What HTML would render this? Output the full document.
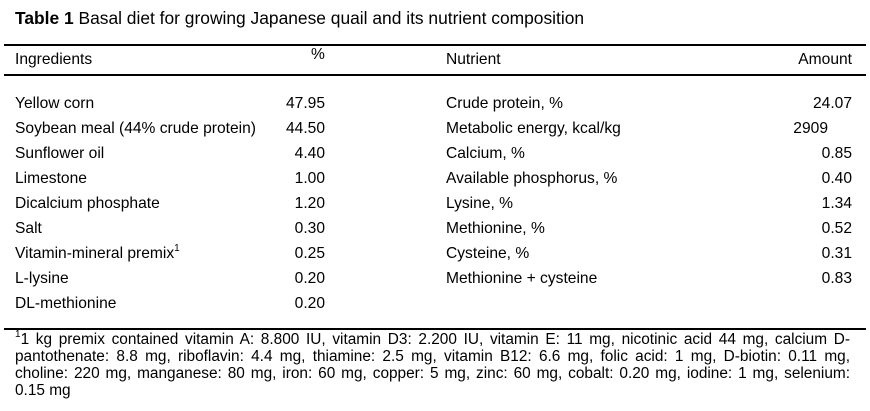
<!DOCTYPE html>
<html><head><meta charset="utf-8"><style>
body{margin:0;width:870px;height:411px;background:#fff;position:relative;overflow:hidden;font-family:"Liberation Sans",Arial,sans-serif;color:#000;font-size:15.6px}
.a{position:absolute;white-space:nowrap;line-height:18px}
.r{text-align:right}
sup{font-size:10px;line-height:0;position:relative;top:-1px;vertical-align:super}
.rule{position:absolute;left:4px;width:862px;height:1.5px;background:#000}
.fn{position:absolute;left:15px;width:835px;line-height:17px;height:17px;text-align:justify;text-align-last:justify;white-space:nowrap;font-size:15.4px}
</style></head><body>
<div class="a" style="left:15px;top:9px;font-size:17.4px"><b>Table 1</b> Basal diet for growing Japanese quail and its nutrient composition</div>
<div class="rule" style="top:44px"></div>
<div class="rule" style="top:74px"></div>
<div class="rule" style="top:328px"></div>
<div class="a" style="left:15px;top:51px">Ingredients</div>
<div class="a" style="left:311px;top:46px">%</div>
<div class="a" style="left:446px;top:51px">Nutrient</div>
<div class="a r" style="right:18px;top:51px">Amount</div>
<div id="rows"></div>
<div class="fn" style="top:331px"><sup>1</sup>1 kg premix contained vitamin A: 8.800 IU, vitamin D3: 2.200 IU, vitamin E: 11 mg, nicotinic acid 44 mg, calcium D-</div>
<div class="fn" style="top:348px">pantothenate: 8.8 mg, riboflavin: 4.4 mg, thiamine: 2.5 mg, vitamin B12: 6.6 mg, folic acid: 1 mg, D-biotin: 0.11 mg,</div>
<div class="fn" style="top:365px">choline: 220 mg, manganese: 80 mg, iron: 60 mg, copper: 5 mg, zinc: 60 mg, cobalt: 0.20 mg, iodine: 1 mg, selenium:</div>
<div class="fn" style="top:382px;text-align-last:left">0.15 mg</div>
<script>
const ingredients=["Yellow corn","Soybean meal (44% crude protein)","Sunflower oil","Limestone","Dicalcium phosphate","Salt","Vitamin-mineral premix<sup>1</sup>","L-lysine","DL-methionine"];
const percents=["47.95","44.50","4.40","1.00","1.20","0.30","0.25","0.20","0.20"];
const nutrients=["Crude protein, %","Metabolic energy, kcal/kg","Calcium, %","Available phosphorus, %","Lysine, %","Methionine, %","Cysteine, %","Methionine + cysteine"];
const amounts=["24.07","2909","0.85","0.40","1.34","0.52","0.31","0.83"];
const c=document.getElementById('rows');
function add(html,style,name){const d=document.createElement('div');d.className='a';d.setAttribute('style',style);d.innerHTML=html;


c.appendChild(d);}
ingredients.forEach((t,i)=>{const y=95+i*25;add(t,'left:15px;top:'+y+'px','ingredient-'+i);add(percents[i],'right:545px;top:'+y+'px;text-align:right','percent-'+i);});
nutrients.forEach((t,i)=>{const y=95+i*25;add(t,'left:446px;top:'+y+'px','nutrient-'+i);add(amounts[i],'right:'+(i==1?42:18)+'px;top:'+y+'px;text-align:right','amount-'+i);});
</script>
</body></html>
